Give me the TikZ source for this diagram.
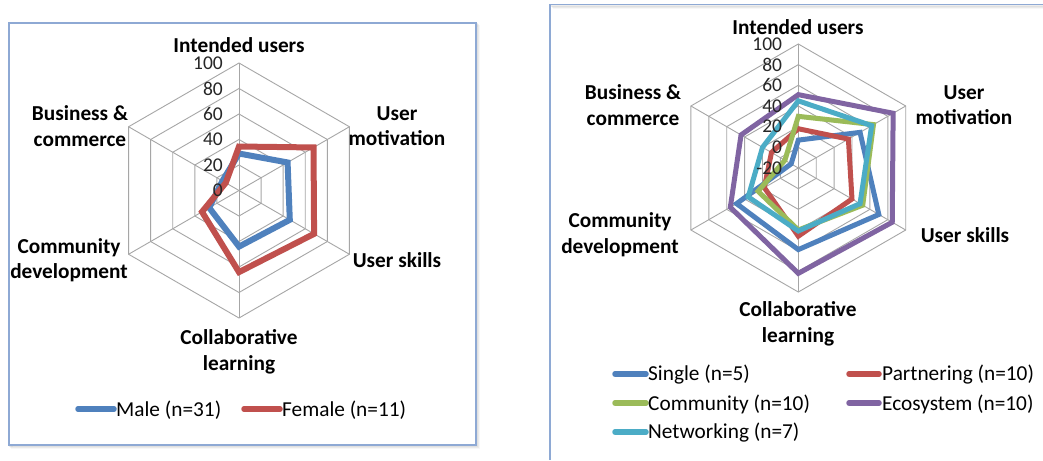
\documentclass[tikz,border=0pt]{standalone}
\usepackage{fontspec}
\setmainfont{Carlito}
\definecolor{sblue}{HTML}{4F81BD}
\definecolor{sred}{HTML}{C0504D}
\definecolor{sgreen}{HTML}{9BBB59}
\definecolor{spurple}{HTML}{8064A2}
\definecolor{scyan}{HTML}{4BACC6}
\definecolor{framec}{HTML}{8EA9D4}
\definecolor{gridc}{HTML}{A6A6A6}
\begin{document}
\begin{tikzpicture}[x=1pt,y=-1pt,
  gridline/.style={draw=gridc,line width=0.9pt},
  frameline/.style={draw=framec,line width=1.6pt},
  series/.style={line width=#1,line join=miter},
  lgline/.style={line width=5.5pt,line cap=round},
  axlabel/.style={font=\bfseries\fontsize{21.3}{25.5}\selectfont,align=center,inner sep=0pt},
  tick/.style={font=\fontsize{19.5}{19.5}\selectfont,text=black!85,anchor=east,inner sep=0pt},
  lgtext/.style={font=\fontsize{21.3}{21.3}\selectfont,anchor=west,inner sep=0pt}]
\useasboundingbox (0,0) rectangle (1043,460);
\fill[white] (0,0) rectangle (1043,460);
% ---------- frames with soft shadow
\foreach \o/\op in {3/0.03,2/0.05,1/0.07}{
  \draw[black,opacity=\op,line width=2pt] (9+\o,23+\o) rectangle (476+\o,445+\o);
  \draw[black,opacity=\op,line width=2pt] (550+\o,4.7+\o) -- (1043,4.7+\o);
}
\fill[white] (9,23) rectangle (476,445);
\draw[frameline] (9,23) rectangle (476,445);
\draw[frameline] (550,460) -- (550,4.7) -- (1043,4.7);
% ---------- left chart
\begin{scope}[shift={(239,190.5)}]
  \def\ul{1.275}
  \foreach \k in {1,...,5}{
    \draw[gridline] (-90:\k*25.5) \foreach \a in {-30,30,90,150,210}{ -- (\a:\k*25.5)} -- cycle;
  }
  \foreach \a in {-90,-30,30,90,150,210}{ \draw[gridline] (0,0) -- (\a:127.5); }
  \draw[series=6pt,sblue] (-90:29*\ul) -- (-30:44*\ul) -- (30:46*\ul) -- (90:44*\ul) -- (150:27*\ul) -- (210:15*\ul) -- cycle;
  \draw[series=6pt,sred] (-90:34.5*\ul) -- (-30:67.5*\ul) -- (30:68*\ul) -- (90:64*\ul) -- (150:33.5*\ul) -- (210:12*\ul) -- cycle;
  \foreach \k/\t in {0/0,1/20,2/40,3/60,4/80,5/100}{
    \node[tick] (tL\k) at (-16,-\k*25.5) {\t};
  }
\end{scope}
\node[axlabel] (iuL) at (239,45.5) {Intended users};
\node[axlabel] (umL) at (397,126) {User\\motivation};
\node[axlabel] (usL) at (397,260) {User skills};
\node[axlabel] (clL) at (239,352) {Collaborative\\learning};
\node[axlabel] (cdL) at (69,260) {Community\\development};
\node[axlabel] (bcL) at (80,126) {Business \&\\commerce};
\draw[lgline,sblue] (78,409) -- (114,409);
\node[lgtext] (lgMale) at (116,410) {Male (n=31)};
\draw[lgline,sred] (244,409) -- (280,409);
\node[lgtext] (lgFemale) at (282,410) {Female (n=11)};
% ---------- right chart
\begin{scope}[shift={(798.3,168)}]
  \def\ur{1.033}
  \foreach \k in {1,...,6}{
    \draw[gridline] (-90:\k*20.67) \foreach \a in {-30,30,90,150,210}{ -- (\a:\k*20.67)} -- cycle;
  }
  \foreach \a in {-90,-30,30,90,150,210}{ \draw[gridline] (0,0) -- (\a:124); }
  \draw[series=5pt,sblue] (-90:27*\ur) -- (-30:69*\ur) -- (30:90*\ur) -- (90:79*\ur) -- (150:69*\ur) -- (210:8*\ur) -- cycle;
  \draw[series=5pt,sred] (-90:38*\ur) -- (-30:56*\ur) -- (30:60*\ur) -- (90:66*\ur) -- (150:38*\ur) -- (210:30*\ur) -- cycle;
  \draw[series=5pt,sgreen] (-90:50*\ur) -- (-30:84*\ur) -- (30:72*\ur) -- (90:60*\ur) -- (150:45*\ur) -- (210:15*\ur) -- cycle;
  \draw[series=5pt,spurple] (-90:71*\ur) -- (-30:106*\ur) -- (30:105*\ur) -- (90:102*\ur) -- (150:76*\ur) -- (210:64*\ur) -- cycle;
  \draw[series=5pt,scyan] (-90:65*\ur) -- (-30:82*\ur) -- (30:69*\ur) -- (90:61*\ur) -- (150:56*\ur) -- (210:40*\ur) -- cycle;
  \foreach \k/\t in {0/-20,1/0,2/20,3/40,4/60,5/80,6/100}{
    \node[tick] (tR\k) at (-16,-\k*20.67) {\t};
  }
\end{scope}
\node[axlabel] (iuR) at (798,27.5) {Intended users};
\node[axlabel] (umR) at (964,105) {User\\motivation};
\node[axlabel] (usR) at (965,235) {User skills};
\node[axlabel] (clR) at (798,324) {Collaborative\\learning};
\node[axlabel] (cdR) at (620,234.5) {Community\\development};
\node[axlabel] (bcR) at (633,105) {Business \&\\commerce};
\draw[lgline,sblue] (615,374) -- (646,374);
\node[lgtext] (lgS) at (648,375) {Single (n=5)};
\draw[lgline,sred] (849,374) -- (879,374);
\node[lgtext] (lgP) at (882,375) {Partnering (n=10)};
\draw[lgline,sgreen] (615,403) -- (646,403);
\node[lgtext] (lgC) at (648,404) {Community (n=10)};
\draw[lgline,spurple] (849,403) -- (879,403);
\node[lgtext] (lgE) at (882,404) {Ecosystem (n=10)};
\draw[lgline,scyan] (615,432) -- (646,432);
\node[lgtext] (lgN) at (648,433) {Networking (n=7)};
\end{tikzpicture}
\end{document}
